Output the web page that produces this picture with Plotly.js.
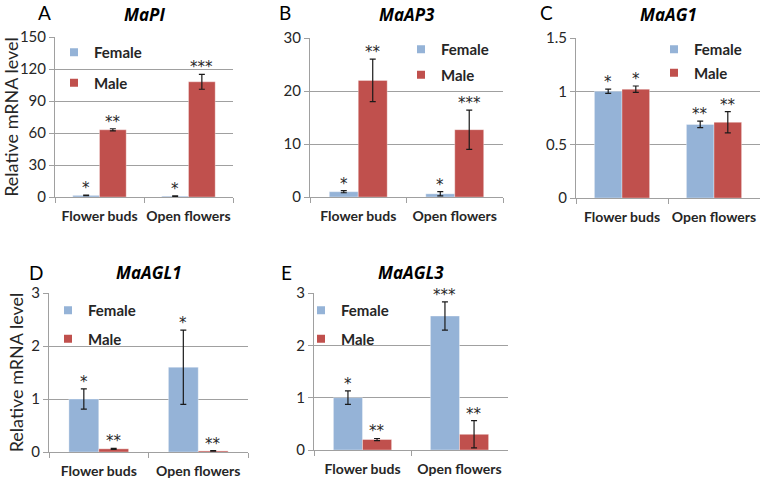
<!DOCTYPE html>
<html>
<head>
<meta charset="utf-8">
<script src="https://cdn.plot.ly/plotly-3.0.1.min.js"></script>
<style>html,body{margin:0;padding:0;background:#fff;}#chart{width:760px;height:483px;}</style>
</head>
<body>
<div id="chart"></div>
<script>
// ---- data ----
const categories = ['Flower buds', 'Open flowers'];
const genes = ['MaPI', 'MaAP3', 'MaAG1', 'MaAGL1', 'MaAGL3'];
const panelLetters = ['A', 'B', 'C', 'D', 'E'];
const seriesNames = ['Female', 'Male'];
const femaleValues = [[1.5, 0.8], [1.0, 0.6], [1.0, 0.69], [1.0, 1.6], [1.0, 2.56]];
const femaleErrors = [[0.3, 0.2], [0.2, 0.4], [0.02, 0.03], [0.19, 0.7], [0.13, 0.27]];
const maleValues = [[63, 108], [22, 12.7], [1.02, 0.71], [0.06, 0.02], [0.2, 0.3]];
const maleErrors = [[1, 7], [4, 3.7], [0.03, 0.1], [0.01, 0.005], [0.02, 0.26]];
const femaleStars = [['*', '*'], ['*', '*'], ['*', '**'], ['*', '*'], ['*', '***']];
const maleStars = [['**', '***'], ['**', '***'], ['*', '**'], ['**', '**'], ['**', '**']];
const yMax = [150, 30, 1.5, 3, 3];
const yDtick = [30, 10, 0.5, 1, 1];

// ---- layout geometry (pixels) ----
const W = 760, H = 483;
const boxes = [
  {x0: 55, x1: 233, y0: 37, y1: 197},
  {x0: 310, x1: 503, y0: 38, y1: 197},
  {x0: 576, x1: 760, y0: 38, y1: 198},
  {x0: 49, x1: 248, y0: 293, y1: 452},
  {x0: 314, x1: 508, y0: 293, y1: 450}
];
const legendPos = [
  {x: 54, y: 36, gap: 8}, {x: 401, y: 33, gap: 3}, {x: 654, y: 33, gap: 1},
  {x: 48, y: 294, gap: 6}, {x: 301, y: 294, gap: 6}
];
const FEMALE = '#95b3d7', MALE = '#c0504d';
const GRID = '#a0a0a0';
const TXT = '#262626';
const FONT = 'Lato, "Open Sans", sans-serif';
const TFONT = '"Open Sans", Lato, sans-serif';
const SFONT = '"DejaVu Sans", sans-serif';
const bargap = 0.4;
const off = (1 - bargap) / 4;

const px = v => v / W;
const py = v => 1 - v / H;

const traces = [];
const annotations = [];
const layout = {
  width: W, height: H,
  margin: {l: 0, r: 0, t: 0, b: 0},
  paper_bgcolor: '#fff', plot_bgcolor: '#fff',
  font: {family: FONT, color: TXT},
  barmode: 'group', bargap: bargap, bargroupgap: 0,
  showlegend: true,
  annotations: annotations
};

genes.forEach((g, i) => {
  const k = i + 1;
  const xa = 'x' + (k === 1 ? '' : k), ya = 'y' + (k === 1 ? '' : k);
  const leg = 'legend' + (k === 1 ? '' : k);
  const b = boxes[i];
  [[femaleValues, femaleErrors, FEMALE, 0], [maleValues, maleErrors, MALE, 1]].forEach(([vals, errs, col, s]) => {
    traces.push({
      type: 'bar', name: seriesNames[s], x: categories, y: vals[i],
      xaxis: xa, yaxis: ya, showlegend: false,
      marker: {color: col, line: {color: 'rgba(255,255,255,0.35)', width: 1}},
      error_y: {type: 'data', array: errs[i], visible: true, color: '#1a1a1a', thickness: 1.2, width: 3},
      hoverinfo: 'skip'
    });
    // legend entry (small square, as in the original)
    traces.push({
      type: 'scatter', mode: 'markers', name: seriesNames[s], x: [null], y: [null],
      xaxis: xa, yaxis: ya, legend: leg, legendgroup: seriesNames[s], showlegend: true,
      marker: {symbol: 'square', size: 8, color: col}, hoverinfo: 'skip'
    });
  });
  const xkey = 'xaxis' + (k === 1 ? '' : k), ykey = 'yaxis' + (k === 1 ? '' : k);
  layout[xkey] = {
    domain: [px(b.x0), px(b.x1)], anchor: ya, type: 'category',
    showline: true, linecolor: GRID, linewidth: 1,
    ticks: 'outside', tickson: 'boundaries', ticklen: 5, tickcolor: GRID,
    tickangle: 0,
    tickfont: {family: FONT, size: 14, weight: 'bold', color: TXT},
    ticklabelstandoff: 6, showgrid: false, fixedrange: true
  };
  layout[ykey] = {
    domain: [py(b.y1), py(b.y0)], anchor: xa,
    range: [0, yMax[i]], dtick: yDtick[i], tick0: 0,
    showline: true, linecolor: GRID, linewidth: 1,
    ticks: 'outside', ticklen: 5, tickcolor: GRID,
    tickfont: {family: FONT, size: 15, color: TXT},
    showgrid: true, gridcolor: GRID, gridwidth: 1, zeroline: false, fixedrange: true
  };
  if (i === 0 || i === 3) {
    layout[ykey].title = {text: 'Relative mRNA level', font: {family: FONT, size: 18, color: TXT}, standoff: 2};
  }
  const lp = legendPos[i];
  layout[leg] = {
    x: px(lp.x), y: py(lp.y), xanchor: 'left', yanchor: 'top',
    bgcolor: 'rgba(0,0,0,0)', borderwidth: 0,
    font: {family: FONT, size: 15, weight: 'bold', color: TXT},
    traceorder: 'grouped', tracegroupgap: lp.gap, itemwidth: 30, itemclick: false
  };
  // gene title & panel letter
  annotations.push({xref: 'paper', yref: 'paper', x: px((b.x0 + b.x1) / 2), y: py(i < 3 ? 14 : 272),
    text: g, showarrow: false, xanchor: 'center', yanchor: 'middle',
    font: {family: TFONT, size: 17, weight: 'bold', style: 'italic', color: '#000'}});
  const letterX = [44, 285, 546, 36, 286][i];
  annotations.push({xref: 'paper', yref: 'paper', x: px(letterX), y: py(i < 3 ? 13 : 272),
    text: panelLetters[i], showarrow: false, xanchor: 'center', yanchor: 'middle',
    font: {family: FONT, size: 19, color: '#000'}});
  // significance stars
  for (let c = 0; c < categories.length; c++) {
    annotations.push({xref: xa, yref: ya, x: c - off, y: femaleValues[i][c] + femaleErrors[i][c],
      text: femaleStars[i][c], showarrow: false, xanchor: 'center', yanchor: 'bottom', yshift: -4,
      font: {family: SFONT, size: 15, color: '#262626'}});
    annotations.push({xref: xa, yref: ya, x: c + off, y: maleValues[i][c] + maleErrors[i][c],
      text: maleStars[i][c], showarrow: false, xanchor: 'center', yanchor: 'bottom', yshift: -4,
      font: {family: SFONT, size: 15, color: '#262626'}});
  }
});

Plotly.newPlot('chart', traces, layout, {staticPlot: true, displayModeBar: false});
</script>
</body>
</html>
